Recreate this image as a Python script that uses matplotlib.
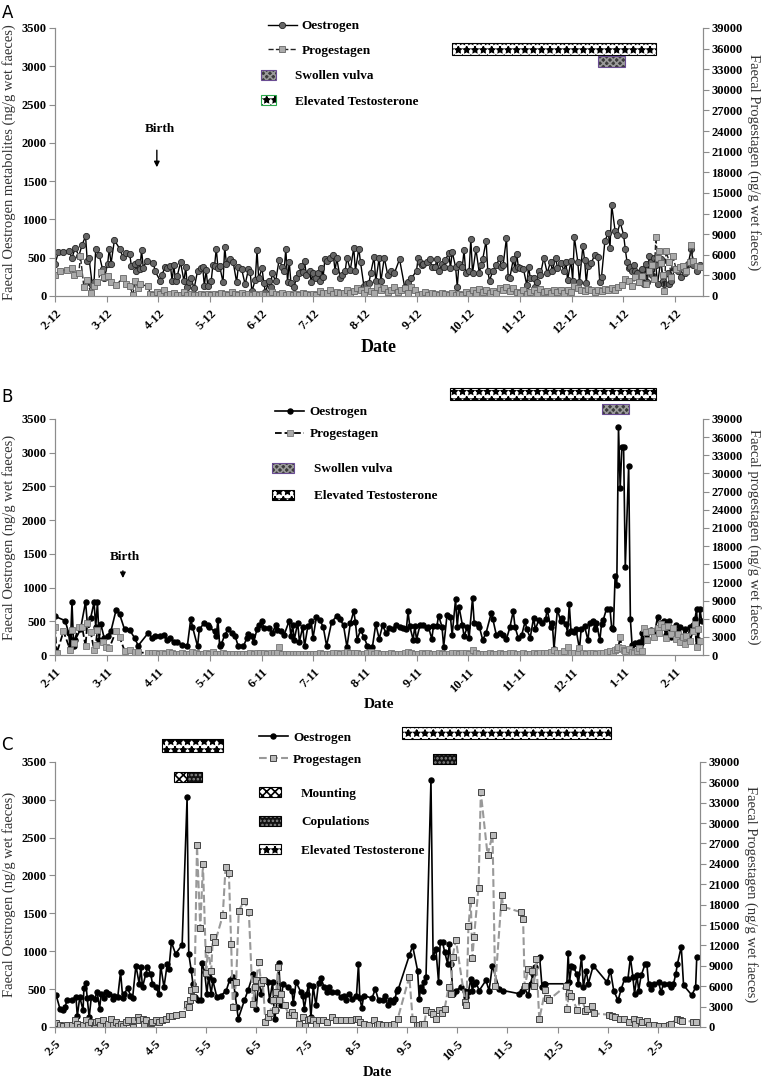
import numpy as np
import matplotlib.pyplot as plt
from matplotlib.patches import Rectangle, Patch
from matplotlib.lines import Line2D

plt.rcParams['font.family'] = ['Liberation Serif', 'DejaVu Serif']
plt.rcParams['hatch.linewidth'] = 1.2

MONTH = 30.44  # days per month tick

# ---------------- DATA (day, value) ----------------
# oestrogen in ng/g (left axis), progestagen in ng/g (right axis)
A_oes = [(0,420),(2,570),(5,580),(8,590),(10,500),(12,630),(14,520),(16,670),(18,780),(19,460),(20,500),(22,140),(23,180),(24,620),(26,540),(28,350),(29,230),
         (31,420),(32,620),(33,420),(35,730),(38,620),(40,510),(42,560),(44,550),(45,390),(47,420),(48,330),(49,440),(50,350),(51,600),(52,370),(54,460),(58,430),(59,320),
         (62,200),(63,280),(65,380),(66,360),(68,390),(69,200),(70,400),(71,200),(72,260),(74,440),(76,190),(77,380),(78,120),(79,180),(80,240),(82,100),(84,330),(86,370),(87,380),(88,130),(89,340),(90,130),
         (92,190),(93,400),(94,390),(95,620),(96,370),(97,390),(99,180),(100,640),(101,420),(103,480),(105,440),(107,180),(108,380),(110,350),(112,150),(114,350),(115,310),(116,60),(118,210),(119,600),(120,230),
         (122,360),(123,170),(124,50),(126,190),(127,120),(128,300),(130,190),(132,470),(134,380),(135,330),(136,620),(137,180),(138,450),(139,170),(141,120),(142,230),(144,300),(145,390),(146,310),(147,460),(148,280),(150,330),(151,180),
         (152,300),(154,230),(155,300),(156,200),(157,370),(158,250),(159,480),(160,460),(162,500),(164,530),(165,330),(166,490),(168,240),(169,280),(171,330),(172,500),(174,340),(176,630),(177,330),(179,620),(180,440),(182,130),(183,150),(185,170),(186,300),(188,510),(189,190),(191,500),(192,190),(194,500),(196,280),(198,330),(200,300),(203,480),(206,120),(208,185),(210,230),(213,330),
         (214,500),(215,440),(216,400),(217,415),(219,440),(221,480),(222,380),(224,380),(225,480),(226,330),(228,420),(229,380),(230,470),(232,560),(233,360),(234,580),(236,380),(237,120),(238,420),(240,380),(241,600),(242,300),
         (244,330),(245,750),(246,300),(248,610),(250,300),(251,400),(252,480),(254,720),(255,320),(256,200),(258,330),(260,400),(262,500),(263,380),(264,400),(266,760),(267,250),(268,240),(270,480),(271,350),(272,550),(273,380),
         (274,360),(276,350),(278,140),(279,380),(280,240),(282,230),(283,120),(284,180),(285,330),(286,280),(288,500),(290,300),(292,450),(293,330),(295,500),(296,370),(298,430),(300,330),(301,450),(302,210),(304,460),
         (305,200),(306,770),(308,450),(309,180),(311,650),(312,475),(313,170),(314,390),(316,430),(318,540),(320,510),(321,180),(322,250),(324,720),(326,825),(327,630),(328,1185),(330,850),(331,800),(333,960),(335,800),(336,610),(337,450),(338,360),(339,380),(340,320),(341,410),(342,330),(343,300),(344,180),(345,230),(346,350),(347,160),(348,420),(349,180),(350,520),(351,440),(352,270),(353,500),(354,400),(355,160),
         (357,480),(358,200),(359,150),(361,300),(362,160),(363,200),(365,350),(367,320),(369,250),(371,300),(373,420),(375,620),(376,400),(378,330),(380,400),(381,380)]

A_pro = [(0,3000),(3,3700),(7,3800),(10,4000),(11,3000),(14,3300),(15,5800),(17,1300),(19,2300),(21,500),(23,1400),(25,2000),(27,3500),(29,2800),(31,2900),(33,2000),(36,1600),(40,2600),(42,1800),(44,1500),(46,100),(47,2200),(49,1200),(50,1700),(55,1400),(56,350),
         (58,200),(60,600),(62,300),(64,800),(66,150),(68,300),(70,500),(72,200),(74,150),(76,600),(78,100),(80,300),(82,150),(84,100),(86,300),(88,150),(90,350),(92,200),(94,250),(96,150),(98,400),(100,250),(102,200),(104,600),(106,300),(108,150),(110,400),(112,200),(114,300),(116,150),(118,250),(120,100),(122,300),(124,150),(126,200),(128,600),(130,250),(132,150),(134,400),(136,200),(138,300),(140,100),(142,350),(144,200),(146,500),(148,250),(150,150),
         (152,300),(154,200),(156,700),(158,500),(160,400),(162,800),(164,300),(166,600),(168,500),(170,400),(172,900),(174,500),(176,700),(178,1200),(180,800),(182,500),(184,1000),(186,700),(188,400),(190,1300),(192,800),(194,1100),(196,600),(198,900),(200,1300),(202,600),(204,900),(206,1200),(208,500),(210,1300),(212,800),
         (214,200),(216,300),(218,600),(220,200),(222,400),(224,300),(226,200),(228,500),(230,300),(232,100),(234,400),(236,150),(238,300),(240,200),(242,600),(244,300),
         (246,800),(248,500),(250,1000),(252,600),(254,900),(256,400),(258,700),(260,500),(262,1200),(264,900),(266,1300),(268,700),(270,1100),(272,600),(274,400),(276,800),(278,300),(280,600),(282,900),(284,400),(286,1000),(288,600),(290,700),(292,400),(294,900),(296,600),(298,800),(300,400),(302,900),(304,600),
         (306,1400),(308,1100),(310,900),(312,700),(314,1000),(316,800),(318,600),(320,900),(322,700),(324,1000),(326,800),(328,1200),(330,900),(332,1300),(334,1600),(336,2400),(338,2200),(340,1500),(342,2700),(344,2000),(346,2900),(348,1800),(350,3600),
         (352,4500),(353,2500),(354,8600),(355,5500),(356,6600),(357,4800),(358,3000),(359,700),(360,6500),(362,4900),(363,2800),(364,5800),(366,3900),(368,4200),(370,4400),(372,3600),(374,4900),(375,7400),(376,5100),(378,4400),(380,4200)]

B_oes = [(0,575),(6,510),(8,330),(9,100),(10,780),(11,130),(12,230),(15,380),(18,790),(19,480),(21,550),(23,780),(24,420),(25,780),(26,230),(27,460),(29,250),(31,290),(33,360),(36,670),(38,610),(41,380),(44,370),(47,250),(49,140),
         (55,330),(57,260),(59,290),(62,290),(64,300),(66,230),(68,250),(70,200),(72,200),(75,150),(78,140),(80,540),(81,420),(84,130),(85,380),(88,480),(90,450),(91,410),(94,350),(95,290),(96,520),(97,140),(98,160),
         (100,300),(102,380),(104,330),(106,290),(108,130),(111,130),(113,250),(114,320),(116,290),(117,190),(119,380),(120,440),(122,500),(123,400),(126,400),(128,330),(130,440),(131,370),(133,360),(135,300),(138,510),(139,280),(140,440),(141,230),(143,480),(144,200),(146,420),(147,130),(149,430),
         (151,500),(152,250),(154,560),(156,520),(158,420),(160,140),(163,490),(166,580),(168,530),(170,440),(172,120),(174,470),(176,650),(177,490),(178,230),(180,370),(182,270),(184,140),(186,100),(187,120),(189,460),(191,240),(193,440),
         (195,330),(197,400),(199,380),(201,450),(203,420),(205,400),(207,380),(208,650),(209,430),(211,230),(212,430),(213,230),(215,440),(217,440),(219,400),(220,420),(222,240),(223,430),(225,430),(226,585),(228,420),(229,125),(231,600),(233,560),(234,300),(236,825),(237,420),(238,720),(240,450),(241,280),(243,420),(244,250),(246,850),(247,470),(249,460),
         (250,420),(252,225),(254,330),(257,620),(258,530),(260,300),(262,330),(264,300),(266,240),(268,410),(270,655),(271,420),(273,250),(275,300),(277,500),(278,380),(280,260),(282,555),(283,380),(285,520),(287,480),(289,530),(290,675),(292,420),(293,480),(294,90),(296,675),(298,500),(299,550),
         (301,460),(302,330),(303,755),(304,360),(306,340),(307,380),(309,90),(310,380),(312,430),(314,220),(315,470),(317,510),(318,390),(319,480),(321,220),(322,460),(323,520),(325,690),(327,680),(328,400),(329,390),(330,1170),(331,1040),(332,3380),(333,2480),(334,3090),(335,3090),(336,1300),(338,2810),(339,530),
         (340,150),(342,180),(343,160),(344,200),(345,180),(346,330),(347,230),(349,330),(351,370),(353,300),(355,560),(356,420),(357,480),(359,500),(360,300),(361,420),(362,500),(363,270),(365,350),(366,440),(367,300),(368,420),(369,200),(371,380),(373,260),(374,410),(376,450),(377,530),(378,680),(379,180),(380,690),(381,500)]

B_pro = [(0,4600),(1,300),(5,3900),(9,830),(10,4100),(11,2000),(14,4600),(16,4600),(18,1450),(19,5300),(21,3850),(23,880),(24,1700),(25,4100),(28,2200),(30,1300),(32,1150),(36,4000),(38,3000),(41,720),(44,830),(47,560),(49,450),
         (55,350),(57,300),(59,400),(61,250),(63,350),(65,200),(67,500),(69,300),(71,200),(73,250),(75,300),(77,200),(79,250),(81,500),(83,300),(85,200),(87,250),(89,350),(91,200),(93,500),(95,250),(97,150),(99,300),
         (101,200),(103,250),(105,200),(107,150),(109,250),(111,200),(113,150),(115,300),(117,250),(119,350),(121,400),(123,300),(125,250),(127,400),(129,300),(131,350),(132,1300),(134,250),(136,200),(138,150),(140,200),(142,150),(144,200),(146,150),(148,200),(150,250),
         (152,150),(154,200),(156,300),(158,150),(160,250),(162,200),(164,300),(166,400),(168,250),(170,300),(172,500),(174,300),(176,400),(178,300),(180,250),(182,200),(184,300),(186,500),(188,200),(190,300),(192,250),(194,150),(196,200),(198,300),
         (200,250),(202,200),(204,250),(206,400),(208,550),(210,300),(212,250),(214,200),(216,350),(218,200),(220,300),(222,200),(224,250),(226,300),(228,200),(230,250),(232,200),(234,300),(236,350),(238,250),(240,300),(242,400),(244,250),(246,900),(248,350),
         (250,200),(252,250),(254,200),(256,300),(258,200),(260,250),(262,300),(264,200),(266,250),(268,300),(270,400),(272,250),(274,200),(276,300),(278,250),(280,200),(282,300),(284,250),(286,400),(288,350),(290,300),(292,500),(294,800),(296,400),(298,300),
         (300,700),(302,1300),(304,400),(306,300),(308,350),(309,1100),(311,300),(313,250),(315,350),(317,300),(319,250),(321,400),(323,300),(325,500),(327,600),(329,400),(330,900),(331,1000),(332,1400),(333,3000),(334,1200),(335,800),(336,600),(338,1000),
         (340,500),(341,300),(343,700),(344,1100),(346,600),(347,4500),(348,3800),(349,2500),(351,4000),(353,3000),(355,4500),(356,3600),(357,5100),(359,4600),(360,2900),(361,4800),(363,3500),(364,4400),(366,2700),(367,3500),(368,2200),(370,3000),(371,1800),(372,3200),(374,2400),(376,4000),(377,5200),(378,1300),(379,4300),(380,2300)]

C_oes = [(0.6,425),(3,240),(4.6,230),(6,260),(7.4,360),(10,360),(12.7,395),(13.5,140),(15,395),(17,220),(17.5,520),(18.7,580),(19.5,385),(20.7,125),(22,395),(24,375),(25.6,460),(27,240),(28,440),(29.6,385),(30.8,460),(32,440),(33,440),(35,375),(36,415),(38,395),(39.7,725),
         (41,385),(42,440),(44,515),(45.7,415),(47,385),(49,810),(51,570),(52,790),(53,525),(55,700),(56,790),(58,700),(59,570),(61,525),(63,440),(64,810),(66,525),(68,835),(69,770),(70.5,1120),(73,965),(77,1085),(80,3030),(81,965),(82.5,750),(83.5,570),(84.5,395),(86.5,350),(88.6,360),(89,850),
         (90.6,725),(92,440),(93,660),(94.6,440),(95.6,615),(98,395),(100.6,415),(103.7,480),(105.7,615),(107.7,660),(109,440),(110,265),(111,110),(114.7,350),(117,490),(120,700),(121.8,240),(123.4,615),(124.8,440),(127,615),(128.8,590),(130,350),(131.8,590),(133,110),(134,220),(135.5,840),(137,285),(138,570),
         (141,525),(143.5,480),(144.3,310),(146,590),(149,460),(150,415),(151,240),(152.4,440),(153.6,560),(155,130),(156.4,535),(158,285),(159.6,580),(161,650),(163,525),(164.5,460),(166,525),(168,460),(171,460),(173,395),(175,415),(176,350),(178,440),(180,375),(182.6,415),(183.8,835),(184.6,385),(185.8,250),(187,415),
         (192,380),(194,500),(196,350),(198.5,350),(200,415),(201.5,285),(203,350),(204.5,330),(206,375),(207,480),(208,505),(214.6,945),(216.6,1070),(219.6,745),(220.6,375),(221.6,525),(222.6,480),(223.6,590),(224.7,660),(227.7,3260),(229,920),(230.7,1030),(232.3,590),(233.3,1120),(234.7,1120),(236,990),(237.8,835),(238.8,1100),(239.8,835),
         (241,440),(242.8,480),(245.8,525),(248.4,480),(249.2,395),(250.4,460),(251.8,635),(252.8,480),(253.8,570),(255,590),(256.9,480),(261,615),(262.9,480),(264.9,810),(269,505),(271.6,480),(281,440),(282.6,480),(284,525),(286.7,420),(288,570),(289.5,700),(291,790),(292.7,900),(293.5,925),(295,525),(296,570),(297,570),
         (310,570),(310.8,970),(311.6,590),(312.8,800),(314,790),(316,700),(317,570),(318.9,925),(320,525),(321.7,745),(323,570),(326,810),(334.4,590),(336.4,745),(338.4,480),(341,350),(343,505),(345,635),(347,635),(348.5,915),(350,660),(351,440),(352.5,680),(353.5,480),(355,680),(357.5,835),(358.5,825),(359.5,570),
         (361,505),(362.5,570),(365.6,590),(367,460),(368.6,570),(371.6,570),(373,525),(374.6,570),(376,700),(377,835),(379.3,1060),(380.7,550),(385.7,420),(388,525),(388.7,925)]

C_pro = [(0.6,590),(3,245),(5,100),(7,245),(10,340),(12,980),(13.5,490),(15,50),(17,245),(19,980),(20,245),(22,735),(24,245),(25,735),(26,880),(27,245),(29,980),(31,110),(32,490),(34,1225),(35,330),(37,735),(38,110),(40,490),(41,110),(43,735),(44,1080),(47,50),(48,1080),(50,1470),
         (51,980),(53,1225),(54,490),(55,1080),(58,590),(59,735),(61,980),(63,735),(65,980),(67,1225),(69,1560),(71,1560),(73,1720),(77,1960),(80,3420),(81,2930),(82,3900),(82.5,5380),(83.5,4400),(84.5,5600),(86,26700),(88,14500),(89.6,24000),(91.6,7970),(92.6,11500),(94.6,8300),(95.6,13200),(97,12500),
         (101.6,16400),(103.3,23500),(105.3,22700),(106.7,12250),(107.7,2930),(109.7,6600),(111.3,17100),(114.7,18600),(117.4,16900),(119.8,3420),(121,5870),(121.8,6850),(123.4,9540),(124.8,6460),(125.8,6850),(127.4,735),(128.8,1470),(130.2,2000),(131.8,3900),(133,2450),(134,5120),(135,8800),(135.9,3900),(137,4900),(139,3170),
         (142,1720),(143.5,2200),(145,1720),(148,490),(150,1470),(151.6,100),(153,980),(154.4,1225),(156,980),(158,490),(160,980),(162.5,1080),(165,735),(168,1470),(170,980),(173,1080),(176,980),(179,980),(182,1225),(183.8,1225),(185,735),(187,490),(190,245),(193,980),(195,245),
         (196.5,490),(198.5,250),(201,250),(203.5,250),(205.5,490),(207.6,1230),(214.6,7400),(216.6,1230),(219,250),(220.6,250),(222,490),(223.6,400),(225,2460),(227.7,2210),(229,1870),(231,1230),(232.7,2460),(234.3,2120),(236,2700),(238.4,5900),(239.8,4920),(240.8,10330),(242.8,12800),
         (248.4,3690),(249.2,3200),(250.4,14800),(251.8,18700),(252.8,10100),(253.8,13300),(256.5,20500),(257.9,34500),(262,25300),(265,28300),(266.6,6000),(270.6,19400),(271.4,17700),(282,16900),(283.5,15900),(284.5,6000),(286.7,8500),(288.7,8200),(290,6000),(291.5,10000),(293.3,1100),
         (297,5500),(298,4300),(299.2,4000),(309.2,6000),(310.2,2700),(311.2,5000),(312.8,4500),(316.3,2500),(318.3,4000),(319.3,4000),(321.3,2400),(322.3,2600),(325.3,3100),(326.3,2000),(335.4,1800),(337.4,1600),(339.4,1400),(342.4,1100),(344.4,1200),(347.9,800),
         (350.5,1200),(351.5,400),(354,1000),(355.5,700),(358.5,900),(360,300),(362.6,250),(365.6,200),(368.6,200),(371.6,300),(373.2,500),(376.7,1200),(378.7,1000),(379.7,900),(386.7,800),(388.1,700)]

A_months = ['2-12', '3-12', '4-12', '5-12', '6-12', '7-12', '8-12', '9-12', '10-12', '11-12', '12-12', '1-12', '2-12']
B_months = ['2-11', '3-11', '4-11', '5-11', '6-11', '7-11', '8-11', '9-11', '10-11', '11-11', '12-11', '1-11', '2-11']
C_months = ['2-5', '3-5', '4-5', '5-5', '6-5', '7-5', '8-5', '9-5', '10-5', '11-5', '12-5', '1-5', '2-5']

# event periods (start day, end day)
A_events = [('Elevated Testosterone', 234, 354), ('Swollen vulva', 320, 336)]
B_events = [('Elevated Testosterone', 233, 354), ('Swollen vulva', 322, 338)]
C_events = [('Elevated Testosterone', 65, 102), ('Mounting', 72, 80), ('Copulations', 80, 89),
            ('Elevated Testosterone', 210, 337), ('Copulations', 229, 243)]

A_birth_day = 60
B_birth_day = 40

# ---------------- STYLE / LAYOUT ----------------
# face, hatch, hatch colour, border
HATCH = {
    'Elevated Testosterone': ('white', '**', 'black', 'black'),
    'Swollen vulva': ('#3c3c3c', 'xxxxx', '#9a9a9a', '#6a4c93'),
    'Mounting': ('white', 'xxxx', 'black', 'black'),
    'Copulations': ('#111111', '....', '#888888', 'black'),
}
A_box_y = [(3147, 3304), (2990, 3133)]
B_box_y = [(3782, 3960), (3574, 3722)]
C_box_y = [(3633, 3804), (3228, 3360), (3228, 3360), (3800, 3966), (3474, 3606)]

BOLD = dict(family=['Liberation Serif', 'DejaVu Serif'], weight='bold')

fig = plt.figure(figsize=(7.64, 10.81), dpi=100)


def box_handle(name, border=None):
    face, hatch, hcol, edge = HATCH[name]
    if border is not None:
        edge = border
    return (Patch(facecolor=face, hatch=hatch, edgecolor=hcol, lw=0),
            Patch(fill=False, edgecolor=edge, lw=0.8))


def panel(rect, oes, pro, months, xmax, ylab_l, ylab_r, oes_kw, pro_kw, events, box_y,
          leg_lines, leg_boxes, box_names, box_borders, date_size, date_pad, fs=9):
    ax = fig.add_axes(rect)
    ax2 = ax.twinx()
    d1, v1 = zip(*oes)
    d2, v2 = zip(*pro)
    l1, = ax.plot(d1, v1, **oes_kw)
    l2, = ax2.plot(d2, v2, **pro_kw)

    ax.set_xlim(0, xmax)
    ax.set_ylim(0, 3500)
    ax2.set_ylim(0, 39000)
    ax.set_yticks(np.arange(0, 3501, 500))
    ax2.set_yticks(np.arange(0, 39001, 3000))
    ax.set_xticks(np.arange(len(months)) * MONTH)
    ax.set_xticklabels(months, rotation=45, ha='right', rotation_mode='anchor')

    for a in (ax, ax2):
        a.spines['top'].set_visible(False)
        for s in ('left', 'right', 'bottom'):
            a.spines[s].set_color('#8c8c8c')
        a.tick_params(direction='out', length=4, color='#8c8c8c', labelsize=fs, pad=2)
        for lab in a.get_xticklabels() + a.get_yticklabels():
            lab.set_fontweight('bold')
    ax.tick_params(axis='x', pad=4)

    ax.set_ylabel(ylab_l, fontsize=10.5, color='#333333', labelpad=4)
    ax2.set_ylabel(ylab_r, fontsize=10.5, color='#333333', rotation=270, labelpad=13)
    ax.set_xlabel('Date', fontsize=date_size, fontweight='bold', labelpad=date_pad)

    for (name, x0, x1), (y0, y1) in zip(events, box_y):
        face, hatch, hcol, edge = HATCH[name]
        ax.add_patch(Rectangle((x0, y0), x1 - x0, y1 - y0, facecolor=face, hatch=hatch,
                               edgecolor=hcol, lw=0, clip_on=False, zorder=5))
        ax.add_patch(Rectangle((x0, y0), x1 - x0, y1 - y0, fill=False, edgecolor=edge,
                               lw=0.8, clip_on=False, zorder=6))

    prop = dict(family=['Liberation Serif', 'DejaVu Serif'], weight='bold', size=fs + 0.5)
    leg1 = ax2.legend([l1, l2], ['Oestrogen', 'Progestagen'], loc='upper left',
                      bbox_to_anchor=leg_lines[0], frameon=False, prop=prop,
                      handlelength=2.2, handletextpad=0.4, labelspacing=leg_lines[1],
                      borderpad=0, borderaxespad=0)
    ax2.add_artist(leg1)
    hs = [box_handle(n, b) for n, b in zip(box_names, box_borders)]
    ax2.legend(hs, box_names, loc='upper left', bbox_to_anchor=leg_boxes[0], frameon=False,
               prop=prop, handlelength=leg_boxes[2], handleheight=0.8, handletextpad=1.5,
               labelspacing=leg_boxes[1], borderpad=0, borderaxespad=0)
    return ax, ax2


# ---------------- PANEL A ----------------
axA, _ = panel([0.072, 0.7262, 0.848, 0.2479], A_oes, A_pro, A_months, 12.54 * MONTH,
               'Faecal Oestrogen metabolites (ng/g wet faeces)',
               'Faecal Progestagen (ng/g wet faeces)',
               dict(color='black', lw=1, marker='o', ms=4.5, mfc='#666666', mec='#222222', mew=0.6),
               dict(color='#222222', lw=1, ls='--', marker='s', ms=4.5, mfc='#aaaaaa', mec='#666666', mew=0.6),
               A_events, A_box_y, ((0.328, 1.03), 0.95), ((0.318, 0.845), 1.0, 1.1),
               ['Swollen vulva', 'Elevated Testosterone'], ['#6a4c93', '#2aa84a'], 13, 2)
axA.text(A_birth_day + 2, 2180, 'Birth', fontsize=9.5, ha='center', va='center', **BOLD)
axA.annotate('', xy=(A_birth_day, 1645), xytext=(A_birth_day, 1940),
             arrowprops=dict(arrowstyle='-|>', color='black', lw=1, mutation_scale=8))

# ---------------- PANEL B ----------------
axB, _ = panel([0.072, 0.394, 0.848, 0.2184], B_oes, B_pro, B_months, 12.54 * MONTH,
               'Faecal Oestrogen (ng/g wet faeces)',
               'Faecal progestagen (ng/g wet faeces)',
               dict(color='black', lw=1.2, marker='o', ms=3.6, mfc='black', mec='black'),
               dict(color='black', lw=1.3, ls='--', marker='s', ms=4.5, mfc='#aaaaaa', mec='#777777', mew=0.6),
               B_events, B_box_y, ((0.34, 1.055), 0.75), ((0.335, 0.815), 1.1, 1.7),
               ['Swollen vulva', 'Elevated Testosterone'], ['#6a4c93', 'black'], 11, 2)
axB.text(B_birth_day + 1, 1453, 'Birth', fontsize=9.5, ha='center', va='center', **BOLD)
axB.annotate('', xy=(B_birth_day, 1100), xytext=(B_birth_day, 1290),
             arrowprops=dict(arrowstyle='-|>', color='black', lw=1, mutation_scale=8))

# ---------------- PANEL C ----------------
panel([0.072, 0.050, 0.844, 0.2452], C_oes, C_pro, C_months, 12.83 * MONTH,
      'Faecal Oestrogen (ng/g wet faeces)',
      'Faecal Progestagen (ng/g wet faeces)',
      dict(color='black', lw=1.2, marker='o', ms=3.6, mfc='black', mec='black'),
      dict(color='#999999', lw=1.5, ls='--', marker='s', ms=4.5, mfc='#bbbbbb', mec='#444444', mew=0.7),
      C_events, C_box_y, ((0.316, 1.115), 0.75), ((0.316, 0.905), 1.2, 1.7),
      ['Mounting', 'Copulations', 'Elevated Testosterone'], ['black', 'black', 'black'], 10.5, 2)

for y, lab in [(0.988, 'A'), (0.633, 'B'), (0.311, 'C')]:
    fig.text(0.002, y, lab, fontsize=12, family='DejaVu Sans', va='center')

fig.savefig('out.png', dpi=100)
